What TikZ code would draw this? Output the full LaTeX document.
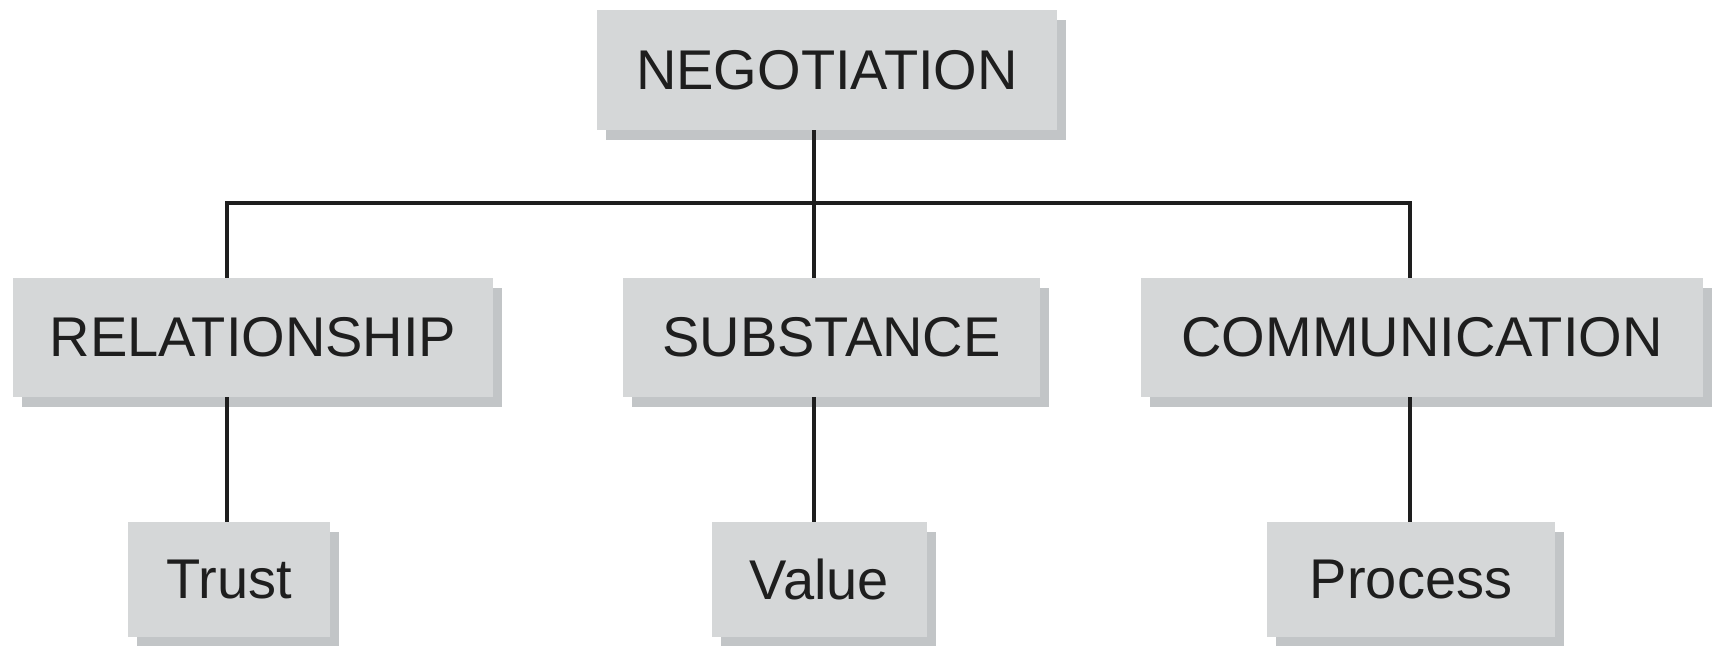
\documentclass[tikz,border=0pt]{standalone}
\usepackage{fontspec}
\setmainfont{Liberation Sans}
\usepackage{xcolor}
\usetikzlibrary{shadows}

\definecolor{boxgray}{RGB}{213,215,216}
\definecolor{shadowgray}{RGB}{194,197,199}
\definecolor{linedark}{RGB}{30,30,30}

\begin{document}
\begin{tikzpicture}[x=1pt, y=-1pt,
        box/.style={rectangle, fill=boxgray, inner sep=0pt, text=linedark,
            font=\fontsize{56}{60}\selectfont,
            drop shadow={shadow xshift=9pt, shadow yshift=-10pt, fill=shadowgray, opacity=1}},
        link/.style={line width=3.6pt, linedark}]
        % Page frame: same size as the reference, in pixel units
        \clip (0,0) rectangle (1723,645);
        \fill[white] (0,0) rectangle (1723,645);

        % Top box
        \node[box, minimum width=460pt, minimum height=120pt] (neg) at (827,70) {NEGOTIATION};

        % Middle row
        \node[box, minimum width=480pt, minimum height=119pt] (rel) at (253,337.5) {RELATIONSHIP};
        \node[box, minimum width=417pt, minimum height=119pt] (sub) at (831.5,337.5) {SUBSTANCE};
        \node[box, minimum width=562pt, minimum height=119pt] (com) at (1422,337.5) {COMMUNICATION};

        % Bottom row
        \node[box, minimum width=202pt, minimum height=115pt] (trust) at (229,579.5) {Trust};
        \node[box, minimum width=215pt, minimum height=115pt] (value) at (819.5,579.5) {Value};
        \node[box, minimum width=288pt, minimum height=115pt] (process) at (1411,579.5) {Process};

        % Junctions on the branch line
        \coordinate (jrel) at (227,203);
        \coordinate (jsub) at (814,203);
        \coordinate (jcom) at (1410,203);

        % Branch lines
        \draw[link] (neg.south -| jsub) -- (jsub);
        \draw[link] (jrel |- rel.north) -- (jrel) -- (jcom) -- (jcom |- com.north);
        \draw[link] (jsub) -- (jsub |- sub.north);

        % Lines down to the bottom row
        \draw[link] (rel.south -| jrel) -- (trust.north -| jrel);
        \draw[link] (sub.south -| jsub) -- (value.north -| jsub);
        \draw[link] (com.south -| jcom) -- (process.north -| jcom);
    \end{tikzpicture}
\end{document}
